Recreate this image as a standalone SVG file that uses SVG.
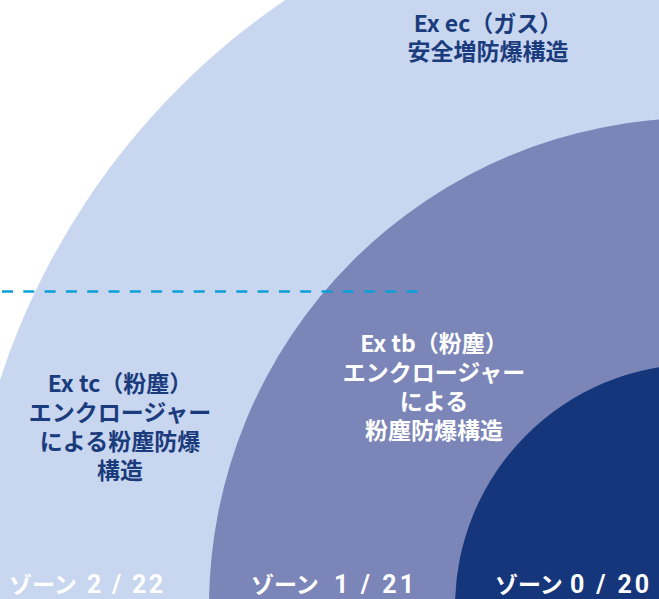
<svg xmlns="http://www.w3.org/2000/svg" width="659" height="599" viewBox="0 0 659 599">
<style>
.t{font-family:"Noto Sans CJK JP","Noto Sans",sans-serif;font-weight:bold;font-size:23px;}
.n{font-family:"Roboto","Noto Sans",sans-serif;font-weight:bold;font-size:25px;}
.dk{fill:#1b3c7c;}
.wh{fill:#ffffff;}
.mid{text-anchor:middle;}
</style>
<rect width="659" height="599" fill="#ffffff"/>
<g id="zone2">
<circle cx="698" cy="607" r="734" fill="#c8d6f0"/>
</g>
<g id="zone1">
<circle cx="698" cy="607" r="489" fill="#7b85b8"/>
</g>
<g id="zone0">
<circle cx="698" cy="607" r="243" fill="#15367a"/>
</g>
<g id="connectors">
<line x1="2" y1="291.5" x2="420" y2="291.5" stroke="#0aa0d6" stroke-width="2.5" stroke-dasharray="11 10.3"/>
</g>
<g id="label-ec">
<text class="t dk mid" x="488" y="32">Ex ec（ガス）</text>
<text class="t dk mid" x="488" y="60">安全増防爆構造</text>
</g>
<g id="label-tc">
<text class="t dk mid" x="120" y="392">Ex tc（粉塵）</text>
<text class="t dk mid" x="120" y="421">エンクロージャー</text>
<text class="t dk mid" x="120" y="450">による粉塵防爆</text>
<text class="t dk mid" x="120" y="479">構造</text>
</g>
<g id="label-tb">
<text class="t wh mid" x="434" y="352">Ex tb（粉塵）</text>
<text class="t wh mid" x="434" y="381">エンクロージャー</text>
<text class="t wh mid" x="434" y="410">による</text>
<text class="t wh mid" x="434" y="439">粉塵防爆構造</text>
</g>
<g id="zone-labels">
<text class="t wh" x="9" y="593">ゾーン<tspan class="n" x="87" textLength="76" lengthAdjust="spacing">2 / 22</tspan></text>
<text class="t wh" x="251" y="593">ゾーン<tspan class="n" x="334" textLength="80" lengthAdjust="spacing">1 / 21</tspan></text>
<text class="t wh" x="495" y="593">ゾーン<tspan class="n" x="570" textLength="79" lengthAdjust="spacing">0 / 20</tspan></text>
</g>
</svg>
